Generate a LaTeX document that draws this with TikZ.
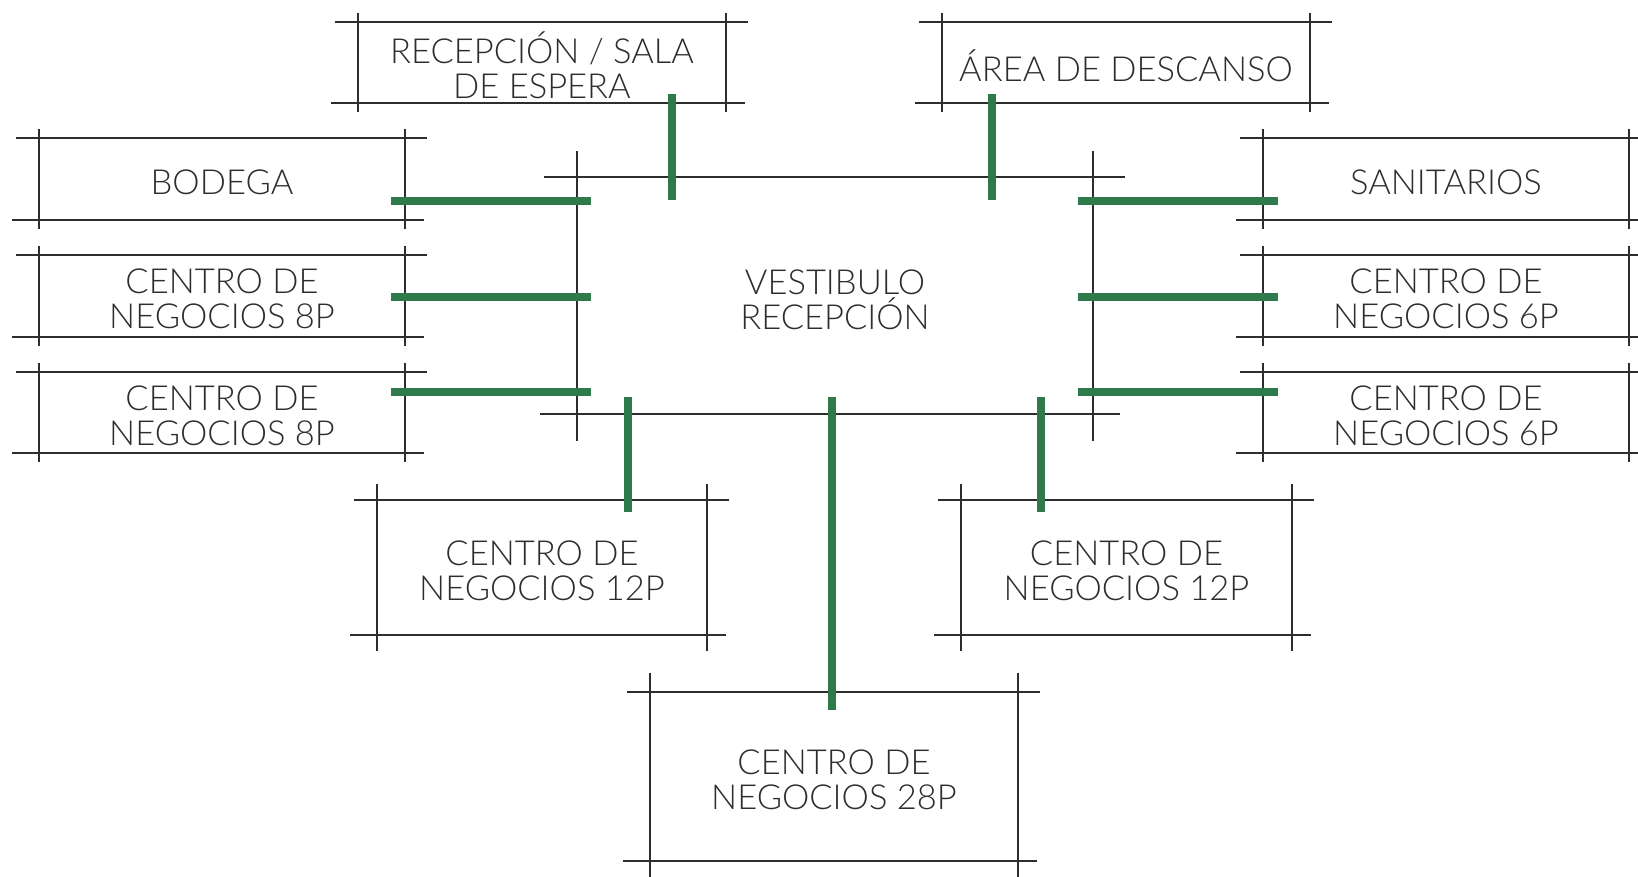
\documentclass[tikz,border=0pt]{standalone}
\usepackage{fontspec}
\setmainfont{Lato}[UprightFont=* Light]
\definecolor{gr}{RGB}{46,122,74}
\definecolor{ink}{RGB}{45,45,45}
\tikzset{
  thinline/.style={draw=ink, line width=2.4pt},
  greenline/.style={draw=gr, line width=8pt},
  lbl/.style={align=center, text=ink, inner sep=0pt, font=\fontsize{34.5}{35}\selectfont}
}
\newcommand\abox[6]{%
  \pgfmathsetmacro\ext{0.115*(#5-#3)}%
  \draw[thinline] ({#2},{#3-\ext}) -- ({#2},{#5+\ext});
  \draw[thinline] ({#4},{#3-\ext}) -- ({#4},{#5+\ext});
  \draw[thinline] ({#2-23},{#3}) -- ({#4+22},{#3});
  \draw[thinline] ({#2-27},{#5}) -- ({#4+19},{#5});
  \node[lbl] (#1) at ({(#2+#4)/2},{(#3+#5)/2+3}) {#6};
}
\begin{document}
\begin{tikzpicture}[x=1pt,y=-1pt]
\useasboundingbox[fill=white] (0,0) rectangle (1638,876);
% central box
\draw[thinline] (577,151) -- (577,441);
\draw[thinline] (1093,151) -- (1093,441);
\draw[thinline] (544,177) -- (1125,177);
\draw[thinline] (540,414) -- (1120,414);
\node[lbl] (vest) at (835,300) {VESTIBULO\\RECEPCIÓN};
% top boxes
\abox{rec}{358}{22}{726}{103}{RECEPCIÓN / SALA\\DE ESPERA}
\abox{area}{942}{22}{1310}{103}{ÁREA DE DESCANSO}
% left boxes
\abox{bod}{39}{138}{405}{220}{BODEGA}
\abox{ca}{39}{255}{405}{337}{CENTRO DE\\NEGOCIOS 8P}
\abox{cb}{39}{372}{405}{453}{CENTRO DE\\NEGOCIOS 8P}
% right boxes
\abox{san}{1263}{138}{1629}{220}{SANITARIOS}
\abox{cc}{1263}{255}{1629}{337}{CENTRO DE\\NEGOCIOS 6P}
\abox{cd}{1263}{372}{1629}{453}{CENTRO DE\\NEGOCIOS 6P}
% bottom boxes
\abox{ce}{377}{500}{707}{635}{CENTRO DE\\NEGOCIOS 12P}
\abox{cf}{961}{500}{1292}{635}{CENTRO DE\\NEGOCIOS 12P}
\abox{cg}{650}{692}{1018}{861}{CENTRO DE\\NEGOCIOS 28P}
% connector end points
\coordinate (r1) at (672,94);   \coordinate (r2) at (672,200);
\coordinate (a1) at (992,94);   \coordinate (a2) at (992,200);
\coordinate (l1a) at (391,200.5); \coordinate (l1b) at (591,200.5);
\coordinate (l2a) at (391,296.5); \coordinate (l2b) at (591,296.5);
\coordinate (l3a) at (391,391.5); \coordinate (l3b) at (591,391.5);
\coordinate (s1a) at (1078,200.5); \coordinate (s1b) at (1278,200.5);
\coordinate (s2a) at (1078,296.5); \coordinate (s2b) at (1278,296.5);
\coordinate (s3a) at (1078,391.5); \coordinate (s3b) at (1278,391.5);
\coordinate (b1a) at (628,397); \coordinate (b1b) at (628,512);
\coordinate (b2a) at (832,397); \coordinate (b2b) at (832,710);
\coordinate (b3a) at (1041,397); \coordinate (b3b) at (1041,512);
\foreach \p/\q in {r1/r2,a1/a2,l1a/l1b,l2a/l2b,l3a/l3b,s1a/s1b,s2a/s2b,s3a/s3b,b1a/b1b,b2a/b2b,b3a/b3b}
  \draw[greenline] (\p) -- (\q);
\end{tikzpicture}
\end{document}
